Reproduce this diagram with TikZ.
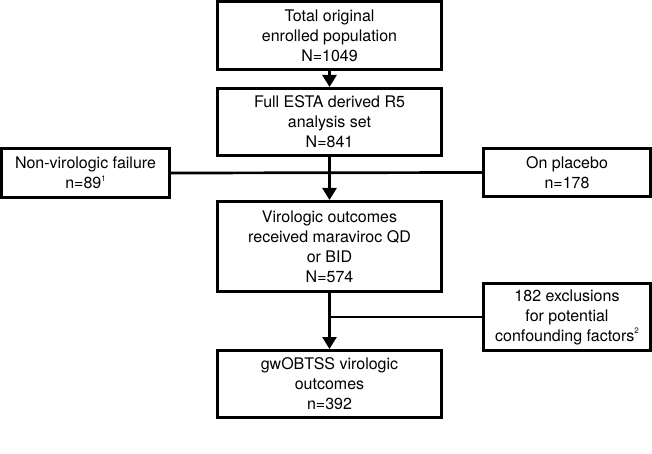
\documentclass[tikz,border=0pt]{standalone}
\usepackage{fontspec}
\setmainfont{TeX Gyre Heros}
\usetikzlibrary{arrows.meta}
\newcommand{\smallsup}[1]{\raisebox{0.45em}{\fontsize{8}{8}\selectfont #1}}
\begin{document}
\begin{tikzpicture}[x=1pt,y=-1pt,
  box/.style={draw=black,line width=2.7pt,align=center,inner sep=0pt,
    font=\fontsize{16}{20}\selectfont},
  conn/.style={line width=2.7pt},
  arr/.style={conn,-{Triangle[width=14pt,length=12pt]}}]
\useasboundingbox (0,0) rectangle (652,454);
\node[box,minimum width=224.3pt,minimum height=68.3pt] (b1) at (329.5,35.5) {Total original\\enrolled population\\N=1049};
\node[box,minimum width=224.3pt,minimum height=67.3pt] (b2) at (329.5,122) {Full ESTA derived R5\\analysis set\\N=841};
\node[box,minimum width=168.3pt,minimum height=49.3pt] (L) at (85.5,173) {Non-virologic failure\\n=89\smallsup{1}};
\node[box,minimum width=167.3pt,minimum height=48.3pt] (R) at (567,172.5) {On placebo\\n=178};
\node[box,minimum width=224.3pt,minimum height=90.3pt] (b3) at (329.5,246.5) {Virologic outcomes\\received maraviroc QD\\or BID\\N=574};
\node[box,minimum width=167.3pt,minimum height=67.3pt] (b4) at (567,317) {182 exclusions\\for potential\\confounding factors\smallsup{2}};
\node[box,minimum width=224.3pt,minimum height=67.3pt] (b5) at (329.5,384) {gwOBTSS virologic\\outcomes\\n=392};
\draw[arr] (b1.south) -- (b2.north);
\draw[arr] (b2.south) -- (b3.north);
\draw[conn] (L.east) -- (R.west);
\draw[arr] (b3.south) -- (b5.north);
\coordinate (j) at (b4.west -| b3.south);
\draw[conn] (b4.west) -- (j);
\end{tikzpicture}
\end{document}
